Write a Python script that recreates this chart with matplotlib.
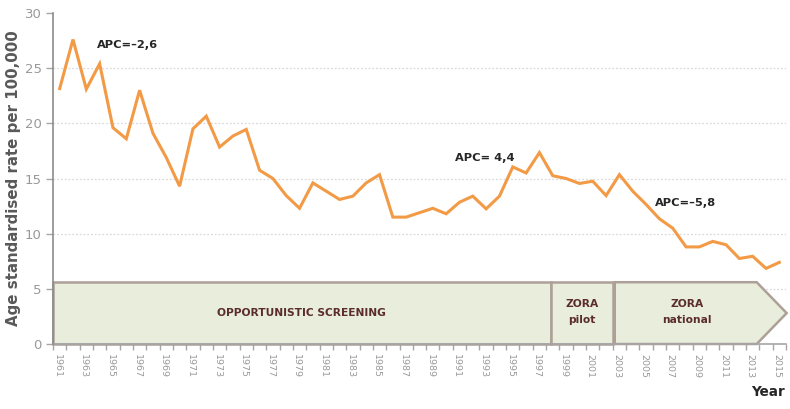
import matplotlib
matplotlib.use("Agg")
import matplotlib.pyplot as plt
from matplotlib.patches import Polygon, Rectangle

years = list(range(1961, 2016))
rates = [23.15, 27.6, 23.1, 25.4, 19.6, 18.6, 23.0, 19.1, 16.9, 14.3,
         19.5, 20.65, 17.85, 18.85, 19.45, 15.75, 15.0, 13.45, 12.3, 14.6,
         13.85, 13.1, 13.4, 14.6, 15.35, 11.5, 11.5, 11.9, 12.3, 11.8,
         12.85, 13.4, 12.25, 13.4, 16.05, 15.5, 17.35, 15.25, 15.0, 14.55,
         14.75, 13.45, 15.35, 13.85, 12.65, 11.35, 10.5, 8.8, 8.8, 9.3,
         9.0, 7.75, 7.95, 6.85, 7.4]

apc_labels = ["APC=\u20132,6", "APC= 4,4", "APC=\u20135,8"]
apc_pos = [(1963.8, 27.1), (1990.7, 16.9), (2005.7, 12.8)]

phase_names = ["OPPORTUNISTIC SCREENING", "ZORA\npilot", "ZORA\nnational"]
phase_bounds = [(1960.5, 1997.85), (1997.85, 2002.55), (2002.65, 2015.55)]
band_height = 5.6

line_color = "#F29A45"
fill_color = "#E8EEDB"
edge_color = "#ADA098"
text_dark = "#5B2C2C"
axis_gray = "#A6A6A6"
label_gray = "#999999"

fig = plt.figure(figsize=(7.9, 4.09), dpi=100)
ax = fig.add_axes([53/790, 1 - 344/409, (786-53)/790, (344-13)/409])

ax.set_xlim(1960.5, 2015.5)
ax.set_ylim(0, 30)

# grid
for g in [5, 10, 15, 20, 25]:
    ax.axhline(g, color="#DADADA", lw=0.9, ls=(0, (1.5, 1.5)), zorder=0)

# phase bands
for (x0, x1), name in zip(phase_bounds, phase_names):
    if name.startswith("ZORA\nnational"):
        tip = x1
        body = x1 - 2.25
        poly = Polygon([(x0, 0), (body, 0), (tip, band_height/2), (body, band_height), (x0, band_height)],
                       closed=True, facecolor=fill_color, edgecolor=edge_color, lw=1.8,
                       zorder=2, clip_on=False)
        ax.add_patch(poly)
        cx = (x0 + body) / 2 + 0.1
    else:
        rect = Rectangle((x0, 0), x1 - x0, band_height, facecolor=fill_color,
                         edgecolor=edge_color, lw=1.8, zorder=2, clip_on=False)
        ax.add_patch(rect)
        cx = (x0 + x1) / 2
    ax.text(cx, band_height/2 + (0.0 if "\n" not in name else 0.1), name, ha="center", va="center",
            fontsize=7.7, fontweight="bold", color=text_dark, family="DejaVu Sans",
            linespacing=1.75, zorder=3)

ax.plot(years, rates, color=line_color, lw=2.2, zorder=4, solid_joinstyle="miter")

for lab, (x, y) in zip(apc_labels, apc_pos):
    ax.text(x, y, lab, ha="left", va="center", fontsize=8.2, fontweight="bold",
            color="#262626", zorder=5)

# axes styling
for s in ["top", "right"]:
    ax.spines[s].set_visible(False)
ax.spines["left"].set_color("#8C8C8C")
ax.spines["left"].set_linewidth(1.2)
ax.spines["bottom"].set_color(axis_gray)
ax.spines["bottom"].set_linewidth(1.2)
ax.spines["left"].set_zorder(6)

ax.set_yticks([0, 5, 10, 15, 20, 25, 30])
ax.tick_params(axis="y", direction="out", length=5, width=1, color=axis_gray,
               labelsize=9.5, labelcolor=label_gray, pad=3)

ax.set_xticks([y - 0.5 for y in years] + [2015.5], minor=False)
ax.set_xticklabels([])
ax.set_xticks([y - 0.2 for y in years[::2]], minor=True)
ax.set_xticklabels([str(y) for y in years[::2]], minor=True, rotation=-90,
                   fontsize=6.8, color=label_gray)
ax.tick_params(axis="x", which="major", direction="out", length=4, width=1, color=axis_gray)
ax.tick_params(axis="x", which="minor", length=0, pad=7)

ax.set_ylabel("Age standardised rate per 100,000", fontsize=10.8, fontweight="bold",
              color="#595959", labelpad=3)
fig.text(768/790, 1 - 392/409, "Year", ha="center", va="center", fontsize=9.8,
         fontweight="bold", color="#262626")

fig.savefig("out.png", dpi=100)
